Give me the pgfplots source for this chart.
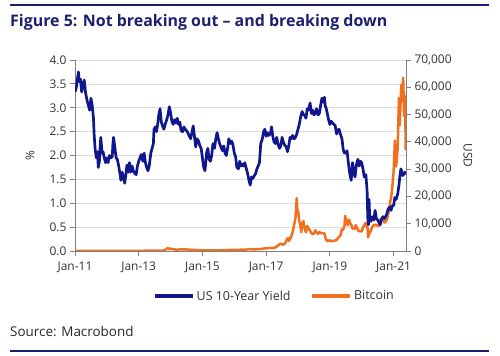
\documentclass[border=0pt]{standalone}
\usepackage{fontspec}
\setmainfont{Open Sans}
\usepackage{pgfplots}
\pgfplotsset{compat=1.18}
\definecolor{yldblue}{RGB}{16,22,140}
\definecolor{titlenavy}{RGB}{28,30,112}
\definecolor{btcorange}{RGB}{240,112,32}
\definecolor{axgray}{RGB}{128,128,128}
\definecolor{gridgray}{RGB}{222,222,222}
\definecolor{labgray}{RGB}{50,50,50}

\pgfplotstableread{
x y
2011.00 3.33
2011.04 3.42
2011.08 3.62
2011.11 3.75
2011.13 3.55
2011.17 3.60
2011.21 3.33
2011.25 3.50
2011.29 3.58
2011.33 3.32
2011.38 3.15
2011.42 3.05
2011.46 2.95
2011.50 3.20
2011.54 3.05
2011.58 2.78
2011.60 2.45
2011.63 2.15
2011.67 1.95
2011.71 2.08
2011.73 1.75
2011.77 1.90
2011.79 2.20
2011.81 2.38
2011.85 2.05
2011.88 2.08
2011.92 1.95
2011.96 1.85
2012.00 1.95
2012.04 1.85
2012.08 2.00
2012.13 1.95
2012.17 1.98
2012.19 2.25
2012.21 2.38
2012.25 2.18
2012.29 1.95
2012.33 1.92
2012.38 1.75
2012.42 1.58
2012.44 1.48
2012.48 1.65
2012.52 1.55
2012.56 1.42
2012.60 1.62
2012.63 1.80
2012.67 1.65
2012.71 1.85
2012.75 1.65
2012.79 1.78
2012.83 1.68
2012.88 1.62
2012.92 1.60
2012.96 1.78
2013.00 1.88
2013.04 1.95
2013.08 2.02
2013.13 1.88
2013.17 2.05
2013.21 1.85
2013.25 1.75
2013.29 1.68
2013.33 1.78
2013.38 2.05
2013.42 2.15
2013.46 2.25
2013.48 2.55
2013.52 2.60
2013.56 2.50
2013.60 2.68
2013.63 2.85
2013.67 2.98
2013.71 2.70
2013.75 2.62
2013.79 2.55
2013.83 2.65
2013.88 2.75
2013.92 2.85
2013.96 3.02
2014.00 2.90
2014.04 2.72
2014.08 2.65
2014.13 2.75
2014.17 2.68
2014.21 2.78
2014.25 2.65
2014.29 2.70
2014.33 2.52
2014.38 2.50
2014.42 2.60
2014.46 2.55
2014.50 2.52
2014.54 2.48
2014.58 2.42
2014.63 2.35
2014.67 2.48
2014.71 2.62
2014.75 2.40
2014.79 2.18
2014.83 2.35
2014.88 2.30
2014.92 2.20
2014.96 2.15
2015.00 1.95
2015.04 1.75
2015.08 1.68
2015.13 2.05
2015.17 2.15
2015.21 1.92
2015.25 1.88
2015.29 2.00
2015.33 2.25
2015.38 2.15
2015.42 2.35
2015.46 2.48
2015.50 2.35
2015.54 2.25
2015.58 2.18
2015.63 2.10
2015.67 2.20
2015.71 2.05
2015.75 2.00
2015.79 2.15
2015.83 2.35
2015.88 2.25
2015.92 2.30
2015.96 2.22
2016.00 2.05
2016.04 1.98
2016.08 1.75
2016.13 1.72
2016.17 1.88
2016.21 1.78
2016.25 1.82
2016.29 1.78
2016.33 1.85
2016.38 1.72
2016.42 1.62
2016.46 1.48
2016.50 1.38
2016.54 1.55
2016.58 1.52
2016.63 1.58
2016.67 1.62
2016.71 1.72
2016.75 1.78
2016.79 1.85
2016.83 2.25
2016.88 2.35
2016.92 2.50
2016.96 2.55
2017.00 2.40
2017.04 2.48
2017.08 2.42
2017.13 2.45
2017.17 2.60
2017.21 2.40
2017.25 2.28
2017.29 2.25
2017.33 2.38
2017.38 2.22
2017.42 2.15
2017.46 2.20
2017.50 2.38
2017.54 2.28
2017.58 2.22
2017.63 2.18
2017.67 2.08
2017.71 2.20
2017.75 2.38
2017.79 2.35
2017.83 2.42
2017.88 2.35
2017.92 2.38
2017.96 2.45
2018.00 2.55
2018.04 2.65
2018.08 2.80
2018.13 2.92
2018.17 2.85
2018.21 2.85
2018.25 2.78
2018.29 2.98
2018.33 2.95
2018.38 3.10
2018.42 2.88
2018.46 2.95
2018.50 2.85
2018.54 2.88
2018.58 2.98
2018.63 2.85
2018.67 2.88
2018.71 3.05
2018.75 3.20
2018.79 3.12
2018.83 3.22
2018.85 3.05
2018.88 3.00
2018.92 2.88
2018.96 2.75
2019.00 2.65
2019.04 2.72
2019.08 2.68
2019.13 2.65
2019.17 2.62
2019.21 2.45
2019.25 2.52
2019.29 2.55
2019.33 2.45
2019.38 2.35
2019.42 2.12
2019.46 2.05
2019.50 2.05
2019.54 2.10
2019.58 1.85
2019.63 1.60
2019.67 1.48
2019.71 1.85
2019.75 1.65
2019.79 1.55
2019.83 1.80
2019.88 1.92
2019.92 1.78
2019.96 1.88
2020.00 1.85
2020.04 1.72
2020.08 1.55
2020.13 1.60
2020.17 1.25
2020.19 0.70
2020.21 0.55
2020.23 1.08
2020.25 0.72
2020.29 0.62
2020.33 0.72
2020.38 0.65
2020.42 0.85
2020.46 0.68
2020.50 0.65
2020.54 0.60
2020.58 0.55
2020.63 0.68
2020.67 0.72
2020.71 0.68
2020.75 0.72
2020.79 0.78
2020.83 0.88
2020.88 0.92
2020.92 0.85
2020.96 0.95
2021.00 0.95
2021.04 1.12
2021.08 1.08
2021.13 1.20
2021.17 1.38
2021.19 1.52
2021.21 1.62
2021.23 1.72
2021.25 1.68
2021.29 1.58
2021.33 1.62
2021.36 1.65
2021.38 1.60
}\yieldtab

\pgfplotstableread{
x y
2011.00 0.3
2011.45 20
2011.60 10
2012.00 5
2012.60 12
2013.00 15
2013.25 140
2013.30 100
2013.60 110
2013.80 200
2013.92 1100
2013.96 700
2014.00 850
2014.10 600
2014.20 500
2014.40 640
2014.70 400
2014.90 350
2015.00 220
2015.50 260
2015.80 310
2015.90 420
2016.00 380
2016.40 550
2016.47 700
2016.60 580
2016.80 700
2016.96 950
2017.00 1000
2017.13 1150
2017.20 1050
2017.30 1350
2017.40 2300
2017.45 2700
2017.53 2300
2017.60 2800
2017.65 4300
2017.70 4800
2017.71 3700
2017.75 4300
2017.80 5800
2017.83 7000
2017.88 9700
2017.92 12000
2017.96 19300
2017.98 14000
2018.00 15000
2018.04 11000
2018.08 9000
2018.10 6900
2018.13 10000
2018.17 11000
2018.21 8000
2018.25 6900
2018.29 9200
2018.33 8200
2018.38 7500
2018.42 6500
2018.46 6200
2018.50 6400
2018.54 7600
2018.58 6800
2018.63 6300
2018.67 7000
2018.71 6500
2018.75 6600
2018.83 6400
2018.87 4500
2018.92 3600
2018.96 3800
2019.00 3900
2019.04 3600
2019.13 3750
2019.21 4000
2019.27 5000
2019.33 5700
2019.38 8000
2019.42 7800
2019.46 9300
2019.48 12900
2019.52 10800
2019.56 9500
2019.60 11500
2019.64 10200
2019.67 9600
2019.71 8200
2019.75 8300
2019.79 8200
2019.81 9500
2019.85 8500
2019.90 7300
2019.96 7200
2020.00 7200
2020.04 8700
2020.08 9400
2020.12 10300
2020.17 8700
2020.19 7900
2020.20 5000
2020.23 6200
2020.27 7000
2020.33 8800
2020.38 9600
2020.42 9400
2020.46 9700
2020.50 9200
2020.54 9300
2020.58 11500
2020.63 11800
2020.67 11300
2020.71 10400
2020.75 10700
2020.79 11500
2020.83 13500
2020.87 15800
2020.90 18500
2020.92 19200
2020.96 23500
2021.00 29000
2021.02 34000
2021.04 40500
2021.06 35000
2021.08 31000
2021.10 33500
2021.13 38000
2021.15 48000
2021.17 56000
2021.19 46000
2021.21 51000
2021.23 58000
2021.25 61000
2021.27 55000
2021.28 58500
2021.30 63500
2021.32 55000
2021.33 49500
2021.34 57000
2021.36 56000
2021.37 49000
2021.38 37000
}\btctab

\begin{document}
\begin{tikzpicture}
\useasboundingbox (0,0) rectangle (500bp,356bp);
\draw[titlenavy, line width=1.5bp] (10bp,351bp) -- (489bp,351bp);
\draw[titlenavy, line width=1.2bp] (10bp,5bp) -- (489bp,5bp);
\node[anchor=west, inner sep=0pt, text=titlenavy, font=\bfseries\fontsize{16}{19}\selectfont] at (10bp,334bp) {Figure 5: Not breaking out – and breaking down};
\node[anchor=west, inner sep=0pt, text=black!85, font=\fontsize{13.5}{16}\selectfont] at (10bp,25bp) {Source: Macrobond};
\pgfplotsset{
  common/.style={
    scale only axis, width=331bp, height=191bp,
    at={(75bp,105bp)}, anchor=south west,
    xmin=2011, xmax=2021.39,
    tick align=outside, major tick length=5bp,
    axis line style={axgray, line width=0.8pt},
    tick style={axgray, line width=0.8pt},
    ticklabel style={font=\fontsize{12}{14}\selectfont, text=labgray},
    label style={font=\fontsize{12}{14}\selectfont, text=labgray},
    /pgf/number format/assume math mode=true,
  }
}
\begin{axis}[common,
  hide x axis,
  axis y line*=right,
  ymin=0, ymax=70000,
  ytick={0,10000,...,70000},
  scaled y ticks=false,
  yticklabel style={/pgf/number format/.cd, fixed, 1000 sep={,}},
  extra y ticks={8750,17500,26250,35000,43750,52500,61250,70000},
  extra y tick labels={},
  extra y tick style={grid=major, major tick length=0pt, grid style={gridgray, line width=0.6pt}},
  ylabel={USD},
  ylabel style={at={(axis description cs:1.187,0.5)}, anchor=center, rotate=180},
]
\addplot[btcorange, line width=2.5pt, line join=round] table[x=x, y=y] {\btctab};
\end{axis}
\begin{axis}[common,
  axis x line*=bottom,
  axis y line*=left,
  ymin=0, ymax=4,
  ytick={0,0.5,...,4},
  yticklabel style={/pgf/number format/.cd, fixed, fixed zerofill, precision=1},
  xtick={2011,2013,2015,2017,2019,2021},
  xticklabels={Jan-11,Jan-13,Jan-15,Jan-17,Jan-19,Jan-21},
  xticklabel style={yshift=-2bp},
  ylabel={\%},
  ylabel style={at={(axis description cs:-0.136,0.5)}, anchor=center},
  legend style={at={(0.2357,-0.236)}, anchor=west, draw=none, fill=none, inner sep=0pt,
    font=\fontsize{12.5}{15}\selectfont, text=labgray,
    /tikz/every even column/.append style={column sep=18bp}},
  legend columns=2,
  legend cell align=left,
  legend image code/.code={\draw[#1, line width=3.5pt] (0bp,0bp) -- (38bp,0bp);},
]
\addplot[yldblue, line width=2.7pt, line join=round] table[x=x, y=y] {\yieldtab};
\addlegendentry{US 10-Year Yield}
\addlegendimage{btcorange}
\addlegendentry{Bitcoin}
\end{axis}
\end{tikzpicture}
\end{document}
